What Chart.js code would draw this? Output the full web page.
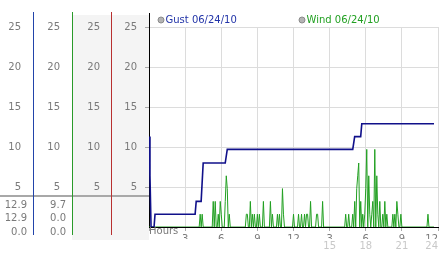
<!DOCTYPE html>
<html>
<head>
<meta charset="utf-8">
<title>Wind 06/24/10</title>
<script src="https://cdn.jsdelivr.net/npm/chart.js@4.4.0/dist/chart.umd.min.js"></script>
<style>
    html, body { margin: 0; padding: 0; background: #fff; }
</style>
</head>
<body>
<canvas id="windChart" width="442" height="253"></canvas>
<script>
// axis ticks and labels
const hourTicks = [0, 3, 6, 9, 12, 15, 18, 21, 24];
const hourLabels = ['Hours', '3', '6', '9', '12', '3', '6', '9', '12'];
const hourLabels24 = ['', '', '', '', '', '15', '18', '21', '24'];
const speedTicks = [5, 10, 15, 20, 25];

const seriesNames = ['Gust 06/24/10', 'Wind 06/24/10'];

// gust, only where it changes (hours, mph)
const gustHours = [0, 0.08, 0.17, 0.42, 0.5, 3.83, 3.92, 4.33, 4.5, 6.33, 6.5, 16.92, 17.08, 17.58, 17.67, 23.67];
const gustValues = [11.3, 6.4, 0, 0, 1.6, 1.6, 3.2, 3.2, 8.0, 8.0, 9.7, 9.7, 11.3, 11.3, 12.9, 12.9];

// wind, one reading every 5 minutes (one row per hour)
const sampleMinutes = 5;
const windValues = [
    0, 0, 0, 0, 0, 0, 0, 0, 0, 0, 0, 0,
    0, 0, 0, 0, 0, 0, 0, 0, 0, 0, 0, 0,
    0, 0, 0, 0, 0, 0, 0, 0, 0, 0, 0, 0,
    0, 0, 0, 0, 0, 0, 0, 0, 0, 0, 0, 0,
    0, 0, 0, 1.6, 0, 1.6, 0, 0, 0, 0, 0, 0,
    0, 0, 0, 0, 3.2, 0, 3.2, 0, 0, 1.6, 0, 3.2,
    1.6, 0, 0, 0, 3.2, 6.4, 4.8, 0, 1.6, 0, 0, 0,
    0, 0, 0, 0, 0, 0, 0, 0, 0, 0, 0, 0,
    0, 1.6, 1.6, 0, 0, 3.2, 0, 1.6, 0, 1.6, 0, 0,
    1.6, 0, 1.6, 0, 0, 0, 3.2, 0, 0, 0, 0, 0,
    0, 3.2, 0, 1.6, 0, 0, 0, 0, 1.6, 0, 1.6, 0,
    0, 4.8, 1.6, 0, 0, 0, 0, 0, 0, 0, 0, 0,
    1.6, 0, 0, 0, 0, 1.6, 0, 0, 1.6, 0, 0, 1.6,
    0, 1.6, 1.6, 0, 0, 3.2, 0, 0, 0, 0, 0, 1.6,
    1.6, 0, 0, 0, 0, 3.2, 0, 0, 0, 0, 0, 0,
    0, 0, 0, 0, 0, 0, 0, 0, 0, 0, 0, 0,
    0, 0, 0, 0, 1.6, 0, 0, 1.6, 0, 0, 0, 1.6,
    0, 3.2, 0, 4.8, 6.4, 8.0, 0, 3.2, 0, 1.6, 0, 1.6,
    4.8, 9.7, 0, 6.4, 1.6, 0, 1.6, 3.2, 0, 9.7, 0, 6.4,
    1.6, 0, 3.2, 0, 0, 1.6, 0, 3.2, 0, 1.6, 0, 0,
    0, 0, 0, 1.6, 0, 1.6, 0, 3.2, 1.6, 0, 0, 1.6,
    0, 0, 0, 0, 0, 0, 0, 0, 0, 0, 0, 0,
    0, 0, 0, 0, 0, 0, 0, 0, 0, 0, 0, 0,
    0, 0, 1.6, 0, 0, 0, 0, 0, 0
];

// now / max / min under the left scales
const gustSummary = [12.9, 12.9, 0.0];
const windSummary = [9.7, 0.0, 0.0];

const gustColor = '#10108a';
const windColor = '#22a022';
const legendTextColors = ['#2234a8', '#22a022'];

Chart.defaults.font.family = "'DejaVu Sans', Verdana, sans-serif";
Chart.defaults.font.size = 10;
Chart.defaults.color = '#7a7a7a';

function setTicks(list) {
    return axis => { axis.ticks = list.map(v => ({ value: v })); };
}

// the three extra speed scales on the far left
function sideAxis(weight, width, pad) {
    return {
        type: 'linear',
        position: 'left',
        weight: weight,
        min: 0,
        max: 25,
        afterBuildTicks: setTicks(speedTicks),
        afterFit: axis => { axis.width = width; },
        ticks: { padding: pad },
        grid: { display: false, drawTicks: false },
        border: { display: false }
    };
}

const panelPlugin = {
    id: 'panels',
    beforeDraw(chart) {
        const { ctx, chartArea, scales } = chart;
        ctx.save();
        ctx.fillStyle = '#f4f4f4';
        ctx.fillRect(scales.c3.left, chartArea.top - 12, scales.y.right - scales.c3.left, chartArea.bottom - chartArea.top + 25);
        ctx.restore();
    },
    afterDraw(chart) {
        const { ctx, chartArea, scales } = chart;
        const top = chartArea.top - 15;
        const bottom = chartArea.bottom + 8;
        ctx.save();

        // separator above the summary rows
        ctx.fillStyle = '#a8a8a8';
        ctx.fillRect(0, chartArea.bottom - 32, scales.y.right, 2);

        // coloured dividers between the scales
        [['c1', '#2244aa'], ['c2', '#2a9a2a'], ['c3', '#b83030']].forEach(([id, color]) => {
            ctx.fillStyle = color;
            ctx.fillRect(Math.round(scales[id].right), top, 1, bottom - top);
        });

        // main axis goes up to the legend
        ctx.fillStyle = '#000';
        ctx.fillRect(Math.round(scales.y.right), chartArea.top - 14, 1, 14);

        // summary numbers
        ctx.font = "10px 'DejaVu Sans', Verdana, sans-serif";
        ctx.fillStyle = '#7a7a7a';
        ctx.textAlign = 'right';
        ctx.textBaseline = 'middle';
        [gustSummary, windSummary].forEach((vals, k) => {
            const right = scales[k === 0 ? 'c1' : 'c2'].right - 6;
            vals.forEach((v, r) => {
                ctx.fillText(v.toFixed(1), right, chartArea.bottom - 22 + r * 13.5);
            });
        });

        // legend
        ctx.textAlign = 'left';
        chart.data.datasets.forEach((ds, i) => {
            const x = chartArea.left + 12 + i * 141;
            const y = chartArea.top - 7;
            ctx.beginPath();
            ctx.arc(x, y, 3, 0, Math.PI * 2);
            ctx.fillStyle = '#b4b4b4';
            ctx.fill();
            ctx.strokeStyle = '#8a8a8a';
            ctx.lineWidth = 1;
            ctx.stroke();
            ctx.fillStyle = legendTextColors[i];
            ctx.fillText(ds.label, x + 4.5, y);
        });
        ctx.restore();
    }
};

const gustPoints = gustHours.map((h, i) => ({ x: h, y: gustValues[i] }));
const windPoints = windValues.map((v, i) => ({ x: i * sampleMinutes / 60, y: v }));

new Chart(document.getElementById('windChart'), {
    type: 'line',
    data: {
        datasets: [
            {
                label: seriesNames[0],
                data: gustPoints,
                borderColor: gustColor,
                borderWidth: 1.6,
                pointRadius: 0,
                tension: 0
            },
            {
                label: seriesNames[1],
                data: windPoints,
                borderColor: windColor,
                borderWidth: 1,
                pointRadius: 0,
                tension: 0
            }
        ]
    },
    options: {
        responsive: false,
        animation: false,
        layout: { padding: { top: 27, bottom: 0, left: 0, right: 4 } },
        plugins: {
            legend: { display: false },
            tooltip: { enabled: false }
        },
        scales: {
            x: {
                type: 'linear',
                position: 'bottom',
                weight: 0,
                min: 0,
                max: 24,
                afterBuildTicks: setTicks(hourTicks),
                ticks: {
                    align: 'inner',
                    autoSkip: false,
                    maxRotation: 0,
                    padding: -4,
                    font: { size: 10, lineHeight: 0.8 },
                    callback: (v, i) => i === 0 ? [hourLabels[0]] : ['', hourLabels[i]]
                },
                grid: { color: '#dcdcdc', tickColor: '#aaa', tickLength: 4 },
                border: { color: '#000' }
            },
            x24: {
                type: 'linear',
                position: 'bottom',
                weight: 1,
                min: 0,
                max: 24,
                afterBuildTicks: setTicks(hourTicks),
                ticks: {
                    align: 'inner',
                    autoSkip: false,
                    maxRotation: 0,
                    padding: 3,
                    color: '#c8c8c8',
                    font: { size: 10, lineHeight: 0.8 },
                    callback: (v, i) => hourLabels24[i]
                },
                grid: { display: false, drawTicks: false },
                border: { display: false }
            },
            c1: sideAxis(3, 33, 12),
            c2: sideAxis(2, 39, 12),
            c3: sideAxis(1, 39, 11),
            y: {
                type: 'linear',
                position: 'left',
                weight: 0,
                min: 0,
                max: 25,
                afterBuildTicks: setTicks(speedTicks),
                afterFit: axis => { axis.width = 38; },
                ticks: { padding: 8 },
                grid: { color: '#dcdcdc', tickColor: '#aaa', tickLength: 4 },
                border: { color: '#000' }
            }
        }
    },
    plugins: [panelPlugin]
});
</script>
</body>
</html>
